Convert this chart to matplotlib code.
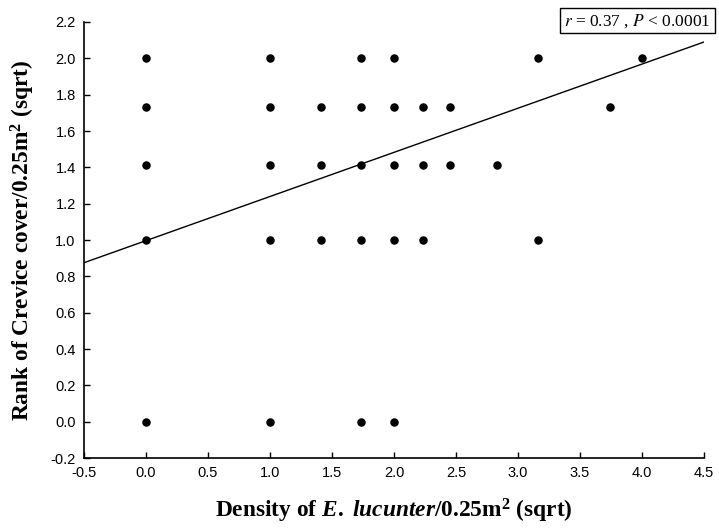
import numpy as np
import matplotlib
matplotlib.use("Agg")
import matplotlib.pyplot as plt

# observed (sqrt-transformed) density and rank of crevice cover
density = [0.0, 1.0, 1.732, 2.0, 3.162, 4.0,
           0.0, 1.0, 1.414, 1.732, 2.0, 2.236, 2.449, 3.742,
           0.0, 1.0, 1.414, 1.732, 2.0, 2.236, 2.449, 2.828,
           0.0, 1.0, 1.414, 1.732, 2.0, 2.236, 3.162,
           0.0, 1.0, 1.732, 2.0]
crevice = [2.0] * 6 + [1.732] * 8 + [1.414] * 8 + [1.0] * 7 + [0.0] * 4

fit_x = [-0.5, 4.5]
fit_y = [0.875, 2.09]

x_ticks = [-0.5, 0.0, 0.5, 1.0, 1.5, 2.0, 2.5, 3.0, 3.5, 4.0, 4.5]
y_ticks = [-0.2, 0.0, 0.2, 0.4, 0.6, 0.8, 1.0, 1.2, 1.4, 1.6, 1.8, 2.0, 2.2]

# bold serif mathtext for the axis labels (must be set before texts are made)
plt.rcParams["mathtext.fontset"] = "custom"
plt.rcParams["mathtext.rm"] = "Liberation Serif:bold"
plt.rcParams["mathtext.it"] = "Liberation Serif:bold:italic"
plt.rcParams["mathtext.bf"] = "Liberation Serif:bold"

fig = plt.figure(figsize=(7.19, 5.30), dpi=100)
ax = fig.add_axes([0.1168, 0.1358, 0.8624, 0.8227])

ax.plot(fit_x, fit_y, color="black", linewidth=1.0)
ax.scatter(density, crevice, s=26, color="black", zorder=3)

ax.set_xlim(-0.5, 4.5)
ax.set_ylim(-0.2, 2.2)
ax.set_xticks(x_ticks)
ax.set_yticks(y_ticks)
ax.set_xticklabels([f"{v:.1f}" for v in x_ticks], family="Liberation Sans", fontsize=10.5)
ax.set_yticklabels([f"{v:.1f}" for v in y_ticks], family="Liberation Sans", fontsize=10.5)
ax.tick_params(direction="in", length=4, width=1, pad=6)

for side in ["top", "right"]:
    ax.spines[side].set_visible(False)
for side in ["left", "bottom"]:
    ax.spines[side].set_linewidth(1.2)

ax.set_xlabel(r"Density of $\mathit{E.}$ $\mathit{lucunter}$/0.25m$^{2}$ (sqrt)",
              family="Liberation Serif", fontsize=16.8, fontweight="bold", labelpad=12)
ax.set_ylabel(r"Rank of Crevice cover/0.25m$^{2}$ (sqrt)",
              family="Liberation Serif", fontsize=16.8, fontweight="bold", labelpad=10)

fig.text(0.9885, 0.961, r"$r$ = 0.37 , $P$ < 0.0001", ha="right", va="center",
         family="Liberation Serif", fontsize=12.5, math_fontfamily="stix",
         bbox=dict(boxstyle="square,pad=0.22", facecolor="white", edgecolor="black", linewidth=1))

fig.savefig("out.png", dpi=100)
